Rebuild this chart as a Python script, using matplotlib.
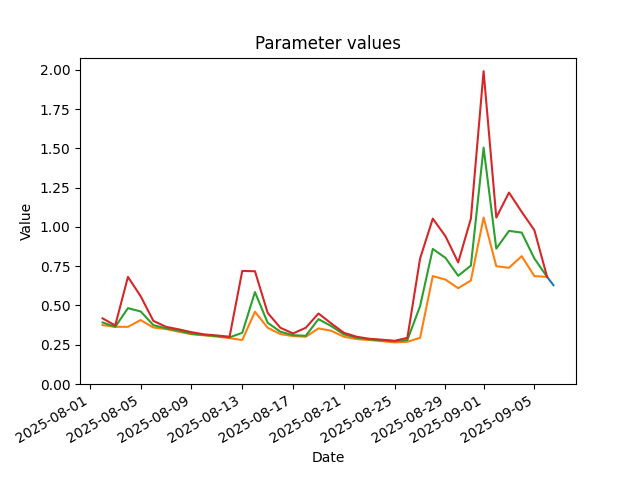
import numpy as np
import pandas as pd
import matplotlib
matplotlib.use("Agg")
import matplotlib.pyplot as plt

# daily values, 2025-08-02 .. 2025-09-06
dates = pd.date_range("2025-08-02", "2025-09-06", freq="D")

low = [0.375, 0.364, 0.364, 0.407, 0.360, 0.350, 0.333, 0.317, 0.310, 0.302,
       0.292, 0.280, 0.460, 0.358, 0.318, 0.305, 0.301, 0.354, 0.339, 0.301,
       0.286, 0.280, 0.273, 0.265, 0.269, 0.294, 0.687, 0.665, 0.610, 0.659,
       1.060, 0.750, 0.740, 0.814, 0.687, 0.682]

mid = [0.392, 0.364, 0.483, 0.462, 0.375, 0.354, 0.339, 0.320, 0.312, 0.305,
       0.297, 0.326, 0.585, 0.390, 0.333, 0.311, 0.307, 0.413, 0.369, 0.316,
       0.295, 0.284, 0.278, 0.273, 0.280, 0.496, 0.860, 0.803, 0.689, 0.754,
       1.505, 0.862, 0.975, 0.964, 0.799, 0.682]

high = [0.418, 0.373, 0.682, 0.559, 0.402, 0.364, 0.348, 0.330, 0.316, 0.309,
        0.301, 0.720, 0.718, 0.453, 0.358, 0.322, 0.358, 0.449, 0.386, 0.326,
        0.301, 0.288, 0.282, 0.275, 0.294, 0.799, 1.053, 0.941, 0.774, 1.053,
        1.992, 1.060, 1.219, 1.096, 0.979, 0.682]

# short base segment at the very end
base_dates = [pd.Timestamp("2025-09-06 00:00"), pd.Timestamp("2025-09-06 12:00")]
base = [0.682, 0.629]

fig, ax = plt.subplots(figsize=(6.4, 4.8), dpi=100)
ax.plot(base_dates, base, color="C0")
ax.plot(dates, low, color="C1")
ax.plot(dates, mid, color="C2")
ax.plot(dates, high, color="C3")

ax.set_ylim(bottom=0)
ax.set_title("Parameter values")
ax.set_xlabel("Date")
ax.set_ylabel("Value")
fig.autofmt_xdate()

plt.savefig("out.png")
